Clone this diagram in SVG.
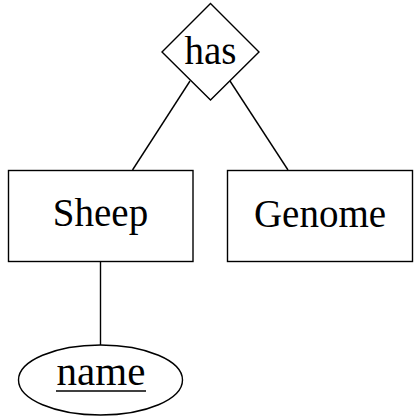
<svg xmlns="http://www.w3.org/2000/svg" width="420" height="420" viewBox="0 0 420 420">
<style>
.s{fill:#fff;stroke:#000;stroke-width:1.4}
.c{stroke:#000;stroke-width:1.4;fill:none}
text{font-family:"Liberation Serif","DejaVu Serif",serif;font-size:39px;fill:#000;text-anchor:middle}
</style>
<rect width="420" height="420" fill="#fff"/>
<g id="connectors">
<line class="c" x1="190" y1="81" x2="132.5" y2="170"/>
<line class="c" x1="230" y1="81" x2="288" y2="170"/>
<line class="c" x1="100.5" y1="262" x2="100.5" y2="345"/>
</g>
<g id="has">
<polygon class="s" points="210.5,3.5 259,52 210.5,100 162,52"/>
<text x="210.5" y="64">has</text>
</g>
<g id="sheep">
<rect class="s" x="8.5" y="170.5" width="184.5" height="91"/>
<text x="100.5" y="226">Sheep</text>
</g>
<g id="genome">
<rect class="s" x="227.5" y="170.5" width="185" height="91"/>
<text x="320" y="227">Genome</text>
</g>
<g id="name">
<ellipse class="s" cx="100.5" cy="380" rx="82" ry="35"/>
<text x="101" y="385" style="font-size:41px">name</text>
<line class="c" x1="56" y1="391" x2="146" y2="391"/>
</g>
</svg>
